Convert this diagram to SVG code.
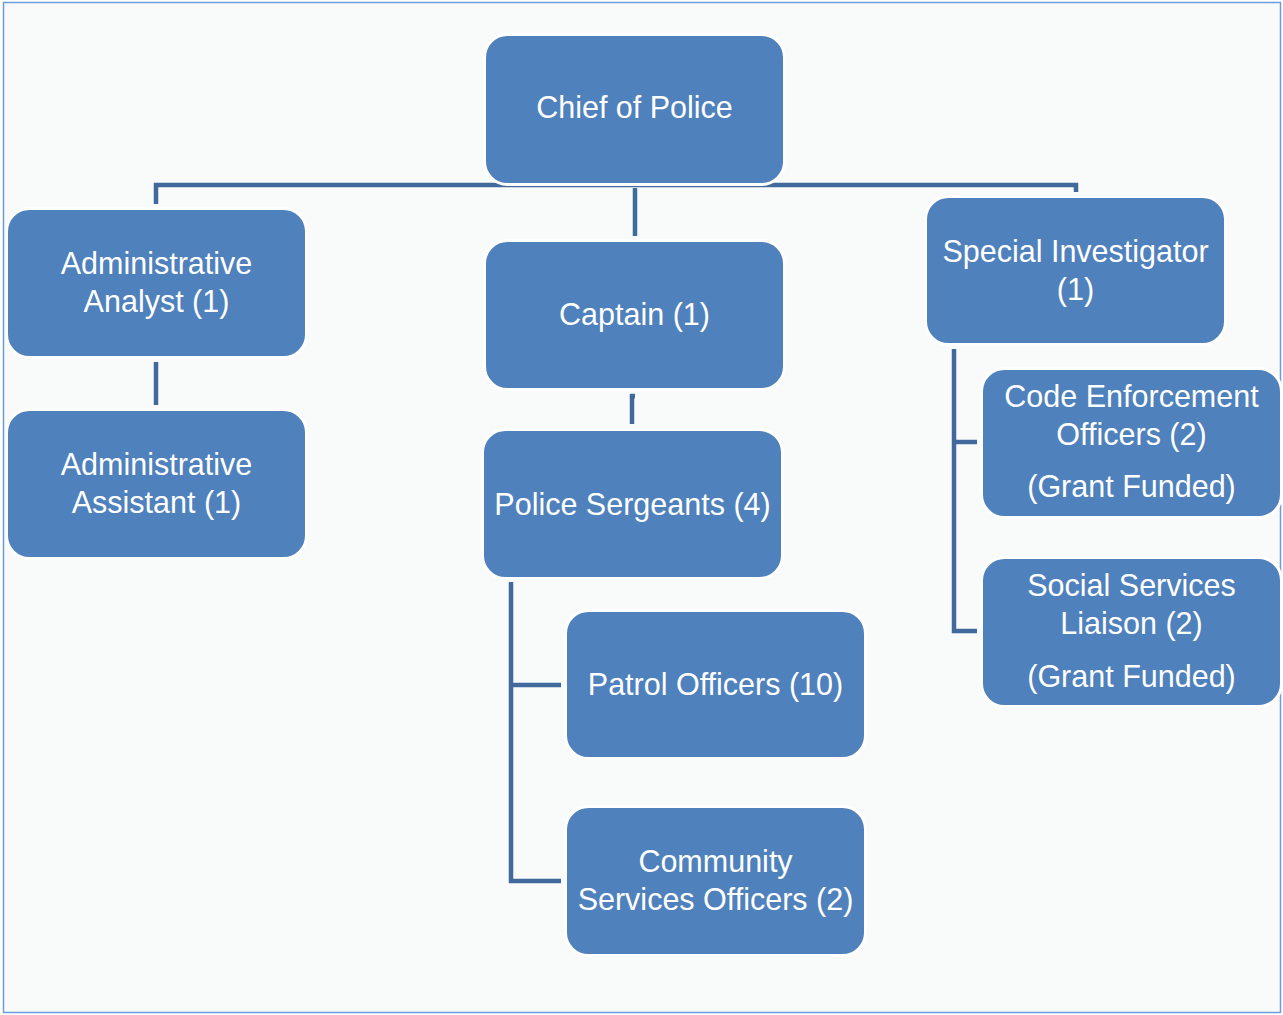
<svg xmlns="http://www.w3.org/2000/svg" width="1283" height="1015" viewBox="0 0 1283 1015">
<style>
.bg{fill:#f9fbfb;stroke:#6b9ddb;stroke-width:1.5}
.box{fill:#4f81bd;stroke:#ffffff;stroke-width:3}
.t{fill:#ffffff;font-family:"Liberation Sans",Arial,sans-serif;font-size:30.5px;text-anchor:middle}
.c{fill:none;stroke:#41699c;stroke-width:4.5;stroke-linejoin:miter}
</style>
<rect width="1283" height="1015" fill="#ffffff"/>
<rect class="bg" x="3.5" y="2.5" width="1277" height="1010"/>
<g id="connectors">
<path class="c" d="M156,204 V185 H1076 V192"/>
<path class="c" d="M635,188 V236"/>
<path class="c" d="M156,362 V405"/>
<path class="c" d="M632,424 V396 H635"/>
<path class="c" d="M511,582 V881 H561 M511,685 H561"/>
<path class="c" d="M954,349 V631 H977 M954,442 H977"/>
</g>
<g id="chief">
<rect class="box" x="484.5" y="34.5" width="300" height="150" rx="23"/>
<text class="t" x="634.5" y="118">Chief of Police</text>
</g>
<g id="admin-analyst">
<rect class="box" x="6.5" y="208.5" width="300" height="149" rx="23"/>
<text class="t" x="156.5" y="274">Administrative</text>
<text class="t" x="156.5" y="312">Analyst (1)</text>
</g>
<g id="captain">
<rect class="box" x="484.5" y="240.5" width="300" height="149" rx="23"/>
<text class="t" x="634.5" y="325">Captain (1)</text>
</g>
<g id="special-investigator">
<rect class="box" x="925.5" y="196.5" width="300" height="148" rx="23"/>
<text class="t" x="1075.5" y="262">Special Investigator</text>
<text class="t" x="1075.5" y="300">(1)</text>
</g>
<g id="admin-assistant">
<rect class="box" x="6.5" y="409.5" width="300" height="149" rx="23"/>
<text class="t" x="156.5" y="475">Administrative</text>
<text class="t" x="156.5" y="513">Assistant (1)</text>
</g>
<g id="police-sergeants">
<rect class="box" x="482.5" y="429.5" width="300" height="149" rx="23"/>
<text class="t" x="632.5" y="515">Police Sergeants (4)</text>
</g>
<g id="code-enforcement">
<rect class="box" x="981.5" y="368.5" width="300" height="149" rx="23"/>
<text class="t" x="1131.5" y="407">Code Enforcement</text>
<text class="t" x="1131.5" y="445">Officers (2)</text>
<text class="t" x="1131.5" y="497">(Grant Funded)</text>
</g>
<g id="social-services">
<rect class="box" x="981.5" y="557.5" width="300" height="149" rx="23"/>
<text class="t" x="1131.5" y="596">Social Services</text>
<text class="t" x="1131.5" y="634">Liaison (2)</text>
<text class="t" x="1131.5" y="687">(Grant Funded)</text>
</g>
<g id="patrol-officers">
<rect class="box" x="565.5" y="610.5" width="300" height="148" rx="23"/>
<text class="t" x="715.5" y="695">Patrol Officers (10)</text>
</g>
<g id="community-services">
<rect class="box" x="565.5" y="806.5" width="300" height="149" rx="23"/>
<text class="t" x="715.5" y="872">Community</text>
<text class="t" x="715.5" y="910">Services Officers (2)</text>
</g>
</svg>
